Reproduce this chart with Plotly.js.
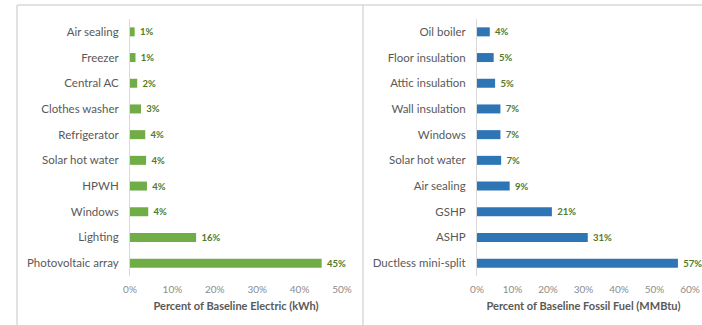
<!DOCTYPE html>
<html>
<head>
<meta charset="utf-8">
<script src="https://cdn.plot.ly/plotly-3.0.1.min.js"></script>
<style>
  html, body { margin: 0; padding: 0; background: #ffffff; }
  #chart { width: 702px; height: 325px; }
</style>
</head>
<body>
<div id="chart"></div>
<script>
// Electric savings by measure (% of baseline kWh)
const electricMeasures = ['Air sealing', 'Freezer', 'Central AC', 'Clothes washer', 'Refrigerator',
  'Solar hot water', 'HPWH', 'Windows', 'Lighting', 'Photovoltaic array'];
const electricSavings = [1.1, 1.3, 1.7, 2.6, 3.6, 3.8, 4.0, 4.3, 15.6, 45.2];
const electricTicks = [0, 10, 20, 30, 40, 50];

// Fossil fuel savings by measure (% of baseline MMBtu)
const fuelMeasures = ['Oil boiler', 'Floor insulation', 'Attic insulation', 'Wall insulation', 'Windows',
  'Solar hot water', 'Air sealing', 'GSHP', 'ASHP', 'Ductless mini-split'];
const fuelSavings = [3.6, 4.7, 5.1, 6.6, 6.6, 6.8, 9.2, 21.1, 31.2, 56.6];
const fuelTicks = [0, 10, 20, 30, 40, 50, 60];

const W = 702, H = 325;
const px = v => v / W;
const py = v => 1 - v / H;

const fontFamily = 'Lato, "Liberation Sans", sans-serif';
const labelGreen = '#4f7a2a';
const frameColor = '#d9d9d9';

const barTrace = (measures, values, color, xa, ya) => ({
  type: 'bar',
  orientation: 'h',
  x: values,
  y: measures,
  xaxis: xa,
  yaxis: ya,
  marker: { color: color },
  texttemplate: '\u00a0%{x:.0f}%',
  textposition: 'outside',
  constraintext: 'none',
  cliponaxis: false,
  textfont: { family: fontFamily, size: 9.5, color: labelGreen, weight: 'bold' },
  hoverinfo: 'y+x'
});

const data = [
  barTrace(electricMeasures, electricSavings, '#70ad47', 'x', 'y'),
  barTrace(fuelMeasures, fuelSavings, '#2e75b6', 'x2', 'y2')
];

const xAxisBase = (ticks, title) => ({
  range: [0, ticks[ticks.length - 1]],
  tickvals: ticks,
  ticktext: ticks.map(t => t + '%'),
  showgrid: false,
  zeroline: false,
  showline: false,
  ticks: '',
  tickfont: { family: fontFamily, size: 10, color: '#8c8c8c' },
  ticklabelstandoff: 6,
  title: { text: title, standoff: 8,
           font: { family: fontFamily, size: 11, color: '#595959', weight: 'bold' } },
  fixedrange: true
});

const yAxisBase = anchor => ({
  anchor: anchor,
  type: 'category',
  autorange: 'reversed',
  domain: [py(276), py(19)],
  showgrid: false,
  zeroline: false,
  showline: true,
  linecolor: frameColor,
  linewidth: 1,
  ticks: '',
  ticklabelstandoff: 8,
  tickfont: { family: fontFamily, size: 11.5, color: '#595959' },
  fixedrange: true
});

const frame = (x0, y0, x1, y1) => ({
  type: 'line', xref: 'paper', yref: 'paper',
  x0: px(x0), y0: py(y0), x1: px(x1), y1: py(y1),
  line: { color: frameColor, width: 1.5 }
});

const layout = {
  width: W,
  height: H,
  margin: { l: 0, r: 0, t: 0, b: 0 },
  paper_bgcolor: '#ffffff',
  plot_bgcolor: '#ffffff',
  showlegend: false,
  bargap: 0.65,
  xaxis: Object.assign(xAxisBase(electricTicks, 'Percent of Baseline Electric (kWh)'),
                       { domain: [px(130), px(342)], anchor: 'y' }),
  yaxis: yAxisBase('x'),
  xaxis2: Object.assign(xAxisBase(fuelTicks, 'Percent of Baseline Fossil Fuel (MMBtu)'),
                        { domain: [px(477), px(690)], anchor: 'y2' }),
  yaxis2: yAxisBase('x2'),
  shapes: [
    frame(17, 5, 702, 5),
    frame(17, 5, 17, 325),
    frame(363, 5, 363, 325)
  ]
};

Plotly.newPlot('chart', data, layout, { displayModeBar: false, staticPlot: true });
</script>
</body>
</html>
